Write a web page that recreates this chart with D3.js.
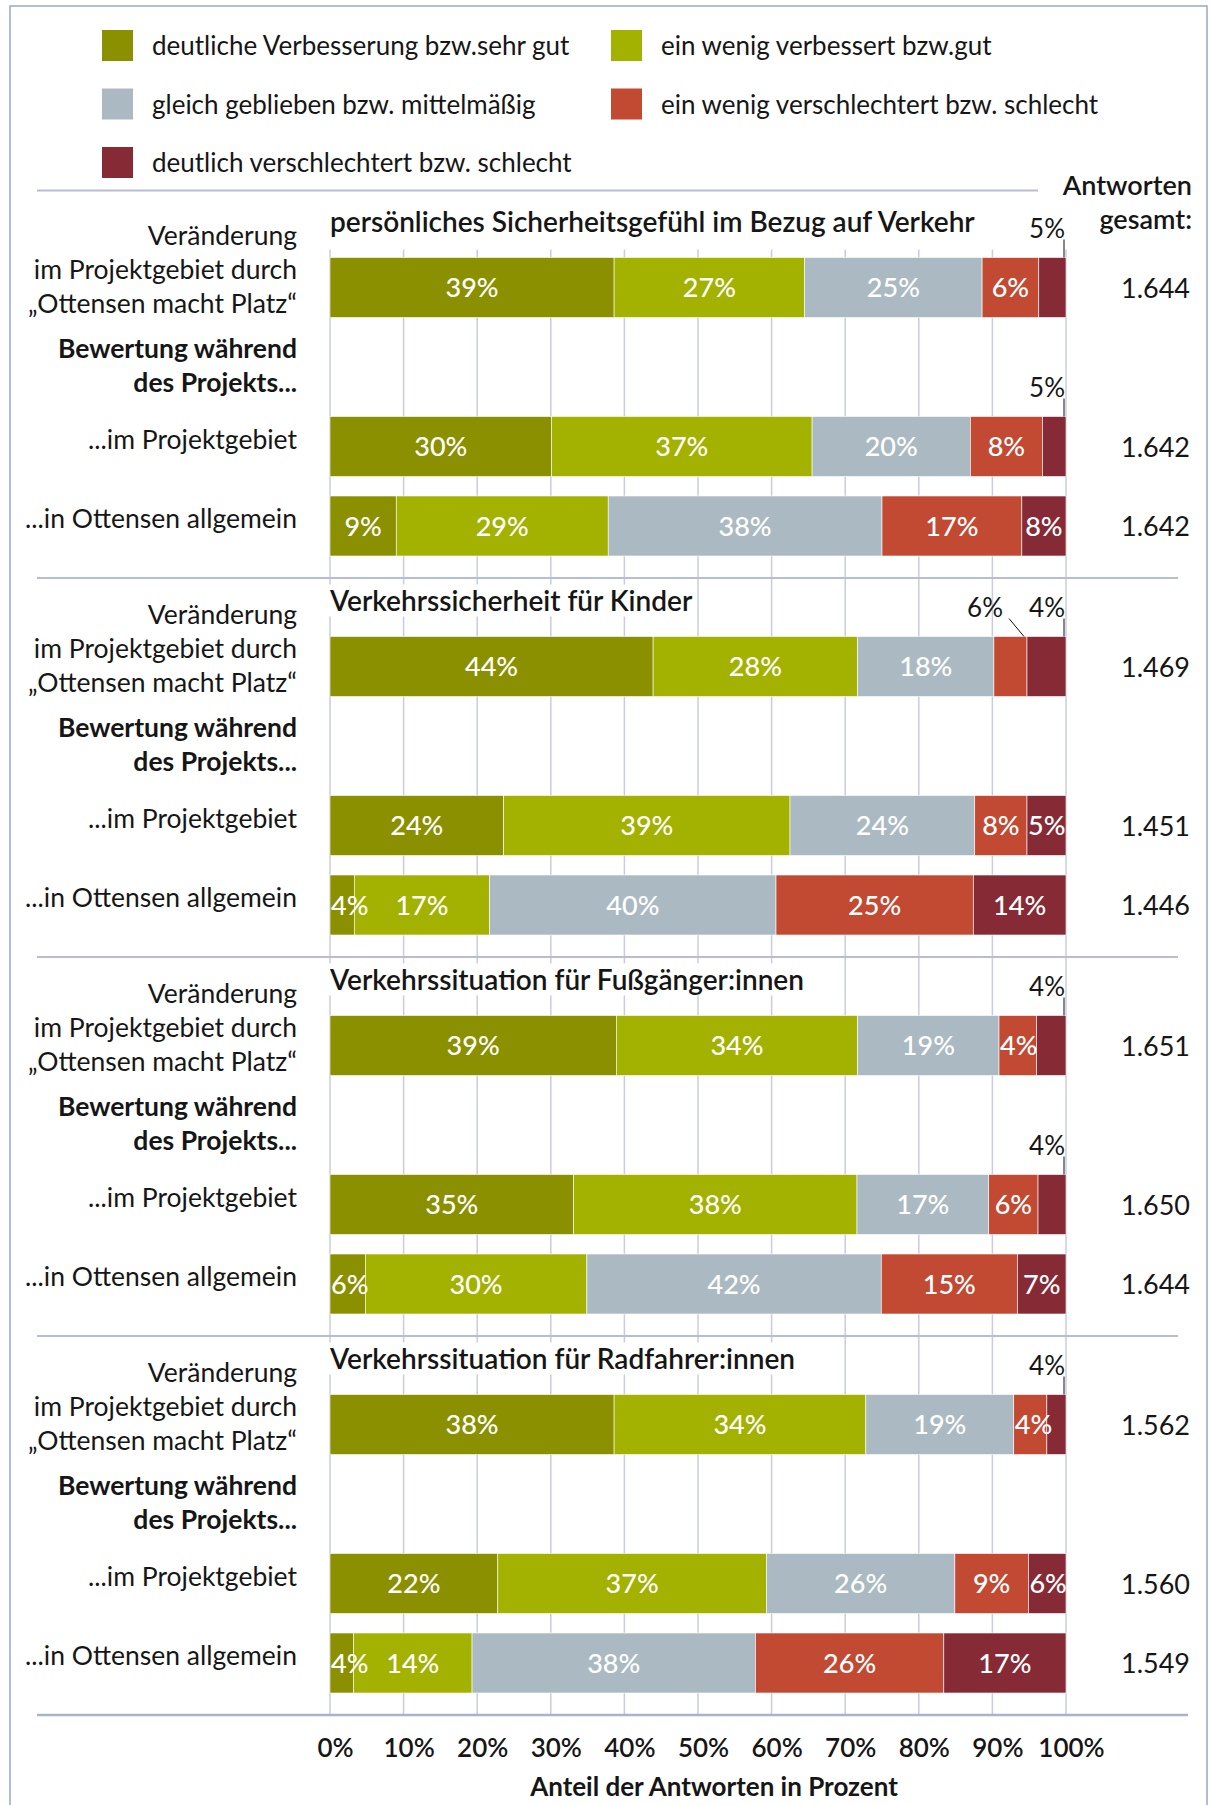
<!DOCTYPE html>
<html>
<head>
<meta charset="utf-8">
<script src="https://cdn.jsdelivr.net/npm/d3@7"></script>
<style>
  body { margin: 0; background: #fff; }
  svg text { font-family: Lato, "Open Sans", sans-serif; fill: #161616; }
</style>
</head>
<body>
<div id="chart"></div>
<script>
// ---- data ----

var topics = [
    "persönliches Sicherheitsgefühl im Bezug auf Verkehr",
    "Verkehrssicherheit für Kinder",
    "Verkehrssituation für Fußgänger:innen",
    "Verkehrssituation für Radfahrer:innen"
];

var categories = [
    "deutliche Verbesserung bzw.sehr gut",
    "ein wenig verbessert bzw.gut",
    "gleich geblieben bzw. mittelmäßig",
    "ein wenig verschlechtert bzw. schlecht",
    "deutlich verschlechtert bzw. schlecht"
];

var rowLabels = ["change", "...im Projektgebiet", "...in Ottensen allgemein"];

// bar lengths (% of answers) as drawn, per topic, per row
var shares = [
    [[38.6, 25.9, 24.1, 7.7, 3.7], [30.1, 35.4, 21.5, 9.8, 3.2], [9.0, 28.8, 37.2, 19.0, 6.0]],
    [[43.9, 27.8, 18.5, 4.5, 5.3], [23.6, 38.9, 25.1, 7.1, 5.3], [3.3, 18.4, 38.9, 26.8, 12.6]],
    [[38.9, 32.8, 19.2, 5.1, 4.0], [33.1, 38.5, 17.9, 6.7, 3.8], [4.8, 30.1, 40.0, 18.5, 6.6]],
    [[38.6, 34.2, 20.1, 4.5, 2.6], [22.8, 36.5, 25.6, 10.0, 5.1], [3.2, 16.1, 38.5, 25.6, 16.6]]
];

// the rounded numbers printed on the bars (they don't always match the lengths)
var printed = [
    [[39, 27, 25, 6, 5], [30, 37, 20, 8, 5], [9, 29, 38, 17, 8]],
    [[44, 28, 18, 6, 4], [24, 39, 24, 8, 5], [4, 17, 40, 25, 14]],
    [[39, 34, 19, 4, 4], [35, 38, 17, 6, 4], [6, 30, 42, 15, 7]],
    [[38, 34, 19, 4, 4], [22, 37, 26, 9, 6], [4, 14, 38, 26, 17]]
];

var totals = [
    ["1.644", "1.642", "1.642"],
    ["1.469", "1.451", "1.446"],
    ["1.651", "1.650", "1.644"],
    ["1.562", "1.560", "1.549"]
];

// segments whose number sits above the bar: [topic, row, segment]
var callouts = [[0, 0, 4], [0, 1, 4], [1, 0, 3], [1, 0, 4], [2, 0, 4], [2, 1, 4], [3, 0, 4]];

var tickValues = [0, 10, 20, 30, 40, 50, 60, 70, 80, 90, 100];

var colors = ["#8a9000", "#a3b100", "#abbac2", "#c24a33", "#862b36"];

// ---- layout ----

var width = 1210, height = 1805;
var barH = 60;
var rowOffset = [0, 159, 238.5];

var svg = d3.select("#chart").append("svg")
    .attr("width", width)
    .attr("height", height);

// outer frame
svg.append("rect")
    .attr("x", 10).attr("y", 6)
    .attr("width", 1197).attr("height", 1820)
    .attr("fill", "none")
    .attr("stroke", "#9aa6c8")
    .attr("stroke-width", 1.5);

var x = d3.scaleLinear().domain([0, 100]).range([330, 1066]);

var groupY = d3.scaleBand()
    .domain(topics)
    .range([257.5, 257.5 + 379 * topics.length]);

function barTop(g, r) { return groupY(topics[g]) + rowOffset[r]; }

var axisY = barTop(3, 2) + barH + 22;
var gridTop = barTop(0, 0) - 8;

/* legend */
var legend = svg.append("g").selectAll("g")
    .data(categories)
    .enter().append("g")
    .attr("transform", function(d, i) {
        return "translate(" + (i % 2 ? 611 : 102) + "," + (30 + Math.floor(i / 2) * 58.5) + ")";
    });

legend.append("rect")
    .attr("width", 31).attr("height", 31)
    .attr("fill", function(d, i) { return colors[i]; });

legend.append("text")
    .attr("x", 50).attr("y", 25)
    .style("font-size", "26px")
    .text(function(d) { return d; });

/* gridlines */
svg.append("g").selectAll("line")
    .data(tickValues)
    .enter().append("line")
    .attr("x1", function(d) { return x(d); })
    .attr("x2", function(d) { return x(d); })
    .attr("y1", gridTop)
    .attr("y2", axisY)
    .attr("stroke", "#c9cce0")
    .attr("stroke-width", 1.5);

/* separators */
svg.append("line")
    .attr("x1", 37).attr("x2", 1038)
    .attr("y1", gridTop - 59).attr("y2", gridTop - 59)
    .attr("stroke", "#b7bdd6").attr("stroke-width", 2);

svg.append("g").selectAll("line")
    .data(topics.slice(0, 3))
    .enter().append("line")
    .attr("x1", 37).attr("x2", 1178)
    .attr("y1", function(d, g) { return barTop(g, 2) + barH + 22; })
    .attr("y2", function(d, g) { return barTop(g, 2) + barH + 22; })
    .attr("stroke", "#b7bdd6").attr("stroke-width", 2);

svg.append("line")
    .attr("x1", 37).attr("x2", 1188)
    .attr("y1", axisY).attr("y2", axisY)
    .attr("stroke", "#aab3cc").attr("stroke-width", 2.5);

svg.append("text")
    .attr("x", 1192).attr("y", 195)
    .attr("text-anchor", "end")
    .style("font-size", "27px").style("font-weight", 600)
    .text("Antworten");
svg.append("text")
    .attr("x", 1192).attr("y", 229)
    .attr("text-anchor", "end")
    .style("font-size", "27px").style("font-weight", 600)
    .text("gesamt:");

/* one block per topic */
var groups = svg.append("g").selectAll("g")
    .data(topics)
    .enter().append("g");

groups.each(function(topic, g) {
    var grp = d3.select(this);

    // title with white box hiding the gridlines
    var title = grp.append("text")
        .attr("x", x(0))
        .attr("y", barTop(g, 0) - 26)
        .style("font-size", "28px")
        .style("font-weight", 600)
        .text(topic);
    var bb = title.node().getBBox();
    grp.insert("rect", "text")
        .attr("x", bb.x - 2).attr("y", bb.y + 2)
        .attr("width", bb.width + 6).attr("height", bb.height - 2)
        .attr("fill", "#fff");

    // left labels
    var c0 = barTop(g, 0) + barH / 2;
    var lines = [
        {t: "Veränderung", dy: -43, w: 400},
        {t: "im Projektgebiet durch", dy: -9, w: 400},
        {t: "\u201EOttensen macht Platz\u201C", dy: 25, w: 400},
        {t: "Bewertung während", dy: 70, w: 700},
        {t: "des Projekts...", dy: 104, w: 700}
    ];
    grp.selectAll("text.lab")
        .data(lines)
        .enter().append("text")
        .attr("class", "lab")
        .attr("x", 297)
        .attr("y", function(d) { return c0 + d.dy; })
        .attr("text-anchor", "end")
        .style("font-size", "26.5px")
        .style("font-weight", function(d) { return d.w; })
        .text(function(d) { return d.t; });

    grp.selectAll("text.rowlab")
        .data(rowLabels.slice(1))
        .enter().append("text")
        .attr("class", "rowlab")
        .attr("x", 297)
        .attr("y", function(d, i) { return barTop(g, i + 1) + barH / 2 + 2; })
        .attr("text-anchor", "end")
        .style("font-size", "26.5px")
        .text(function(d) { return d; });

    // rows of stacked bars
    shares[g].forEach(function(row, r) {
        var acc = 0;
        var segs = row.map(function(v, k) {
            var s = {k: k, x0: acc, x1: acc + v, label: printed[g][r][k]};
            acc += v;
            return s;
        });
        var y0 = barTop(g, r);
        var outside = callouts.filter(function(c) { return c[0] === g && c[1] === r; })
            .map(function(c) { return c[2]; });

        var rg = grp.append("g");
        rg.selectAll("rect")
            .data(segs)
            .enter().append("rect")
            .attr("x", function(d) { return x(d.x0); })
            .attr("width", function(d) { return x(d.x1) - x(d.x0); })
            .attr("y", y0)
            .attr("height", barH)
            .attr("fill", function(d) { return colors[d.k]; })
            .attr("stroke", "#fff")
            .attr("stroke-width", 0.6);

        rg.selectAll("text.val")
            .data(segs.filter(function(d) { return outside.indexOf(d.k) < 0; }))
            .enter().append("text")
            .attr("class", "val")
            .attr("y", y0 + barH / 2)
            .attr("dy", "0.36em")
            .attr("text-anchor", "middle")
            .style("font-size", "27px")
            .style("font-weight", 500)
            .style("fill", "#fff")
            .text(function(d) { return d.label + "%"; })
            .attr("x", function(d) {
                var half = this.getComputedTextLength() / 2;
                var cx = (x(d.x0) + x(d.x1)) / 2;
                return Math.max(cx, x(d.x0) + half + 1);
            });

        // numbers above the bar with a short leader
        outside.forEach(function(k) {
            var d = segs[k];
            var last = k === segs.length - 1;
            var base = y0 - 20;
            var tx = last ? x(100) - 1 : x(d.x1) - 24;
            grp.append("text")
                .attr("x", tx).attr("y", base)
                .attr("text-anchor", "end")
                .style("font-size", "26px")
                .text(d.label + "%");
            grp.append("line")
                .attr("x1", last ? x(100) - 2 : tx + 6)
                .attr("y1", base + 2)
                .attr("x2", last ? x(100) - 2 : x(d.x1) - 3)
                .attr("y2", y0)
                .attr("stroke", "#111")
                .attr("stroke-width", 1);
        });

        // total answers
        grp.append("text")
            .attr("x", 1190)
            .attr("y", y0 + barH / 2 + 10)
            .attr("text-anchor", "end")
            .style("font-size", "27px")
            .text(totals[g][r]);
    });
});

/* x axis */
var xAxis = d3.axisBottom(x)
    .tickValues(tickValues)
    .tickSize(0)
    .tickPadding(24)
    .tickFormat(function(d) { return d + "%"; });

var ax = svg.append("g")
    .attr("transform", "translate(5," + axisY + ")")
    .call(xAxis);
ax.select(".domain").remove();
ax.selectAll("text")
    .style("font-family", "Lato, sans-serif")
    .style("font-size", "26px")
    .style("font-weight", 600)
    .style("fill", "#161616");

svg.append("text")
    .attr("x", 714)
    .attr("y", 1796)
    .attr("text-anchor", "middle")
    .style("font-size", "26px")
    .style("font-weight", 700)
    .text("Anteil der Antworten in Prozent");
</script>
</body>
</html>
